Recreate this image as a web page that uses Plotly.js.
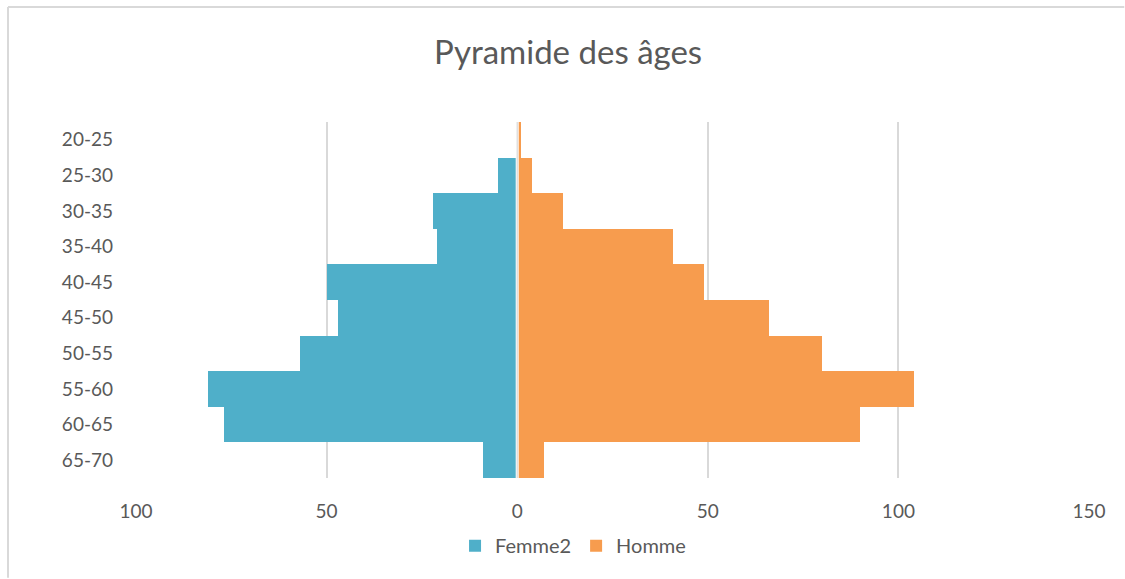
<!DOCTYPE html>
<html>
<head>
<meta charset="utf-8">
<script src="https://cdn.plot.ly/plotly-3.0.1.min.js"></script>
<style>
  html, body { margin: 0; padding: 0; background: #fff; overflow: hidden; }
  #chart { width: 1125px; height: 579px; }
</style>
</head>
<body>
<div id="chart"></div>
<script>
const categories = ["20-25","25-30","30-35","35-40","40-45","45-50","50-55","55-60","60-65","65-70"];
const femme = [0, 5, 22, 21, 50, 47, 57, 81, 77, 9];
const homme = [1, 4, 12, 41, 49, 66, 80, 104, 90, 7];
const tickValues = [-100, -50, 0, 50, 100, 150];
const tickLabels = ["100", "50", "0", "50", "100", "150"];

const fontFam = "Lato, 'Open Sans', sans-serif";
const traces = [
  {
    type: "bar", orientation: "h", name: "Femme2",
    y: categories, x: femme.map(v => -v),
    marker: { color: "#4FAFC9", line: { width: 0 } }
  },
  {
    type: "bar", orientation: "h", name: "Homme",
    y: categories, x: homme,
    marker: { color: "#F79C4E", line: { width: 0 } }
  }
];

const layout = {
  width: 1125, height: 579,
  margin: { l: 136, r: 36, t: 122, b: 101, autoexpand: false },
  paper_bgcolor: "#ffffff", plot_bgcolor: "#ffffff",
  barmode: "overlay", bargap: 0,
  font: { family: fontFam, color: "#595959", size: 19 },
  title: { text: "Pyramide des âges", x: 0.505, xanchor: "center", y: 0.91, yanchor: "middle",
           font: { family: fontFam, size: 33, color: "#595959" } },
  xaxis: {
    range: [-100, 150], tickvals: tickValues, ticktext: tickLabels,
    showgrid: true, gridcolor: "#d9d9d9", gridwidth: 2, zeroline: false,
    showline: false, ticks: "", ticklabelstandoff: 20,
    tickfont: { family: fontFam, size: 19, color: "#595959" }, fixedrange: true
  },
  yaxis: {
    type: "category", range: [9.5, -0.5], showgrid: false, zeroline: false,
    showline: false, ticks: "", ticklabelstandoff: 22,
    tickfont: { family: fontFam, size: 19, color: "#595959" }, fixedrange: true
  },
  shapes: [
    { type: "line", xref: "x", yref: "paper", x0: 0, x1: 0, y0: 0, y1: 1, layer: "above",
      line: { color: "#ffffff", width: 3 } },
    { type: "line", xref: "x", yref: "paper", x0: 0, x1: 0, y0: 0, y1: 1, layer: "above",
      line: { color: "#d9d9d9", width: 1.2 } },
    { type: "line", xref: "paper", yref: "paper", x0: -0.1343, x1: 1.037, y0: 1.323, y1: 1.323,
      layer: "above", line: { color: "#d9d9d9", width: 2 } },
    { type: "line", xref: "paper", yref: "paper", x0: -0.1343, x1: -0.1343, y0: 1.323, y1: -0.28,
      layer: "above", line: { color: "#d9d9d9", width: 2 } }
  ],
  showlegend: true,
  legend: { orientation: "h", x: 0.4586, xanchor: "center", y: -0.19, yanchor: "middle",
            font: { family: fontFam, size: 20, color: "#595959" }, itemwidth: 30, traceorder: "normal" }
};

Plotly.newPlot("chart", traces, layout, { displayModeBar: false, staticPlot: true });
</script>
</body>
</html>
